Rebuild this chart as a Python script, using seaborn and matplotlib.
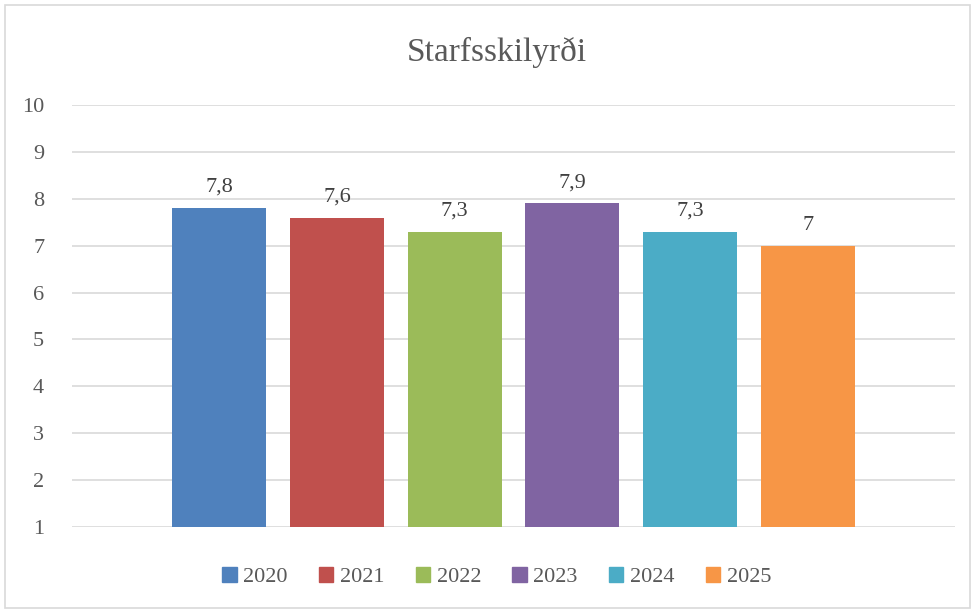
import pandas as pd
import matplotlib.pyplot as plt
import seaborn as sns
from matplotlib.patches import Rectangle

# Data
years = ['2020', '2021', '2022', '2023', '2024', '2025']
scores = [7.8, 7.6, 7.3, 7.9, 7.3, 7.0]
colors = ['#4F81BD', '#C0504D', '#9BBB59', '#8064A2', '#4BACC6', '#F79646']
title = 'Starfsskilyrði'

df = pd.DataFrame({'flokkur': [''] * len(years), 'ar': years, 'einkunn': scores})

sns.set_style("white")
plt.rcParams['font.family'] = ['Liberation Serif', 'DejaVu Serif']

fig = plt.figure(figsize=(9.74, 6.11), dpi=100)
ax = fig.add_axes([72 / 974, 1 - 527 / 611, (955 - 72) / 974, (527 - 105) / 611])

sns.barplot(data=df, x='flokkur', y='einkunn', hue='ar', palette=colors,
            width=0.8, gap=0.2, ax=ax, legend=False, saturation=1, linewidth=0)

ax.set_ylim(1, 10)
ax.set_xlim(-0.5, 0.5)
ax.set_yticks(range(1, 11))
ax.yaxis.grid(True, color='#d9d9d9', linewidth=1.2)
ax.set_axisbelow(True)
for s in ax.spines.values():
    s.set_visible(False)
ax.set_xticks([])
ax.set_xlabel('')
ax.set_ylabel('')
ax.tick_params(axis='y', length=0, pad=20, labelsize=16, labelcolor='#595959')

for cont in ax.containers:
    labels = [('%g' % b.get_height()).replace('.', ',') for b in cont]
    ax.bar_label(cont, labels=labels, padding=8, fontsize=16, color='#404040')

fig.text(0.51, 1 - 52 / 611, title, ha='center', va='center', fontsize=24, color='#595959')

handles = [Rectangle((0, 0), 1, 1, color=c) for c in colors]
fig.legend(handles, years, loc='center', bbox_to_anchor=(0.51, 1 - 577 / 611), ncol=6,
           frameon=False, fontsize=16, handlelength=0.65, handleheight=0.65,
           handletextpad=0.3, columnspacing=1.4, labelcolor='#595959')

fig.patches.append(Rectangle((5 / 974, 3 / 611), 965 / 974, 603 / 611, transform=fig.transFigure,
                             fill=False, edgecolor='#d9d9d9', linewidth=1.2))

fig.savefig('out.png', dpi=100)
